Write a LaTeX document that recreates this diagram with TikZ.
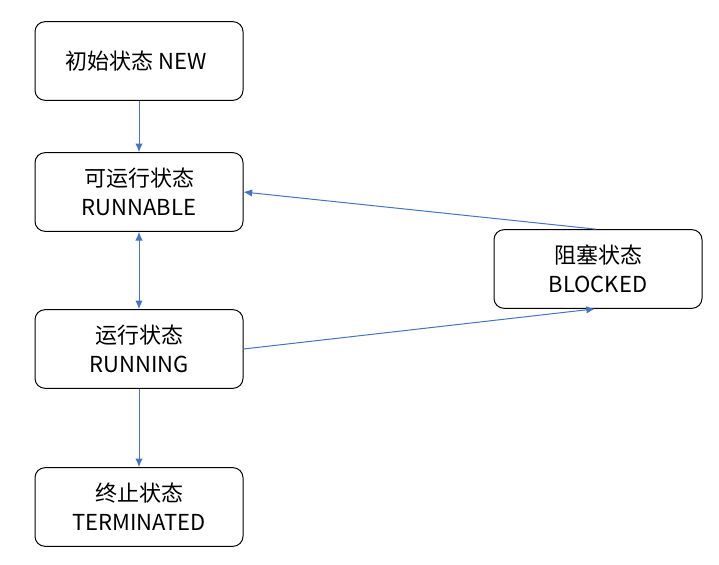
\documentclass[tikz,border=0pt]{standalone}
\usepackage{fontspec}
\setmainfont{Noto Sans CJK SC}
\usepackage{tikz}
\usetikzlibrary{calc,shapes,arrows.meta}
\definecolor{linkblue}{HTML}{4472C4}
\tikzstyle{statebox}=[rectangle,rounded corners=7.5pt,draw=black,fill=white,
                      line width=0.75pt,minimum width=156pt,minimum height=59pt,
                      font=\fontsize{16.5pt}{22pt}\selectfont,inner sep=2pt,align=center]
\tikzstyle{link}=[draw=linkblue,line width=0.75pt,-{Latex[length=6.5pt,width=5.5pt]}]
\newcommand\nodelabel[2]{#1\\#2}

\begin{document}
\begin{tikzpicture}[x=0.75pt,y=-0.75pt]
    \useasboundingbox (0,0) rectangle (719,565);
    	\node [statebox] (new) at (139,61) {
    		初始状态 NEW
    	};
    	\node [statebox] (runnable) at (139,192) {
    		\nodelabel{可运行状态}{RUNNABLE}
    	};
    	\node [statebox] (running) at (139,349) {
    		\nodelabel{运行状态}{RUNNING}
    	};
    	\node [statebox] (terminated) at (139,507) {
    		\nodelabel{终止状态}{TERMINATED}
    	};
    	\node [statebox] (blocked) at (598,269) {
    		\nodelabel{阻塞状态}{BLOCKED}
    	};
    	\draw [link] (new) -- (runnable);
    	\draw [link,{Latex[length=6.5pt,width=5.5pt]}-{Latex[length=6.5pt,width=5.5pt]}] (runnable) -- (running);
    	\draw [link] (running) -- (terminated);
    	\draw [link] ($(blocked.north)+(-2,0)$) -- (runnable.east);
    	\draw [link] (running.east) -- ($(blocked.south)+(-3,0)$);
    \end{tikzpicture}
\end{document}
